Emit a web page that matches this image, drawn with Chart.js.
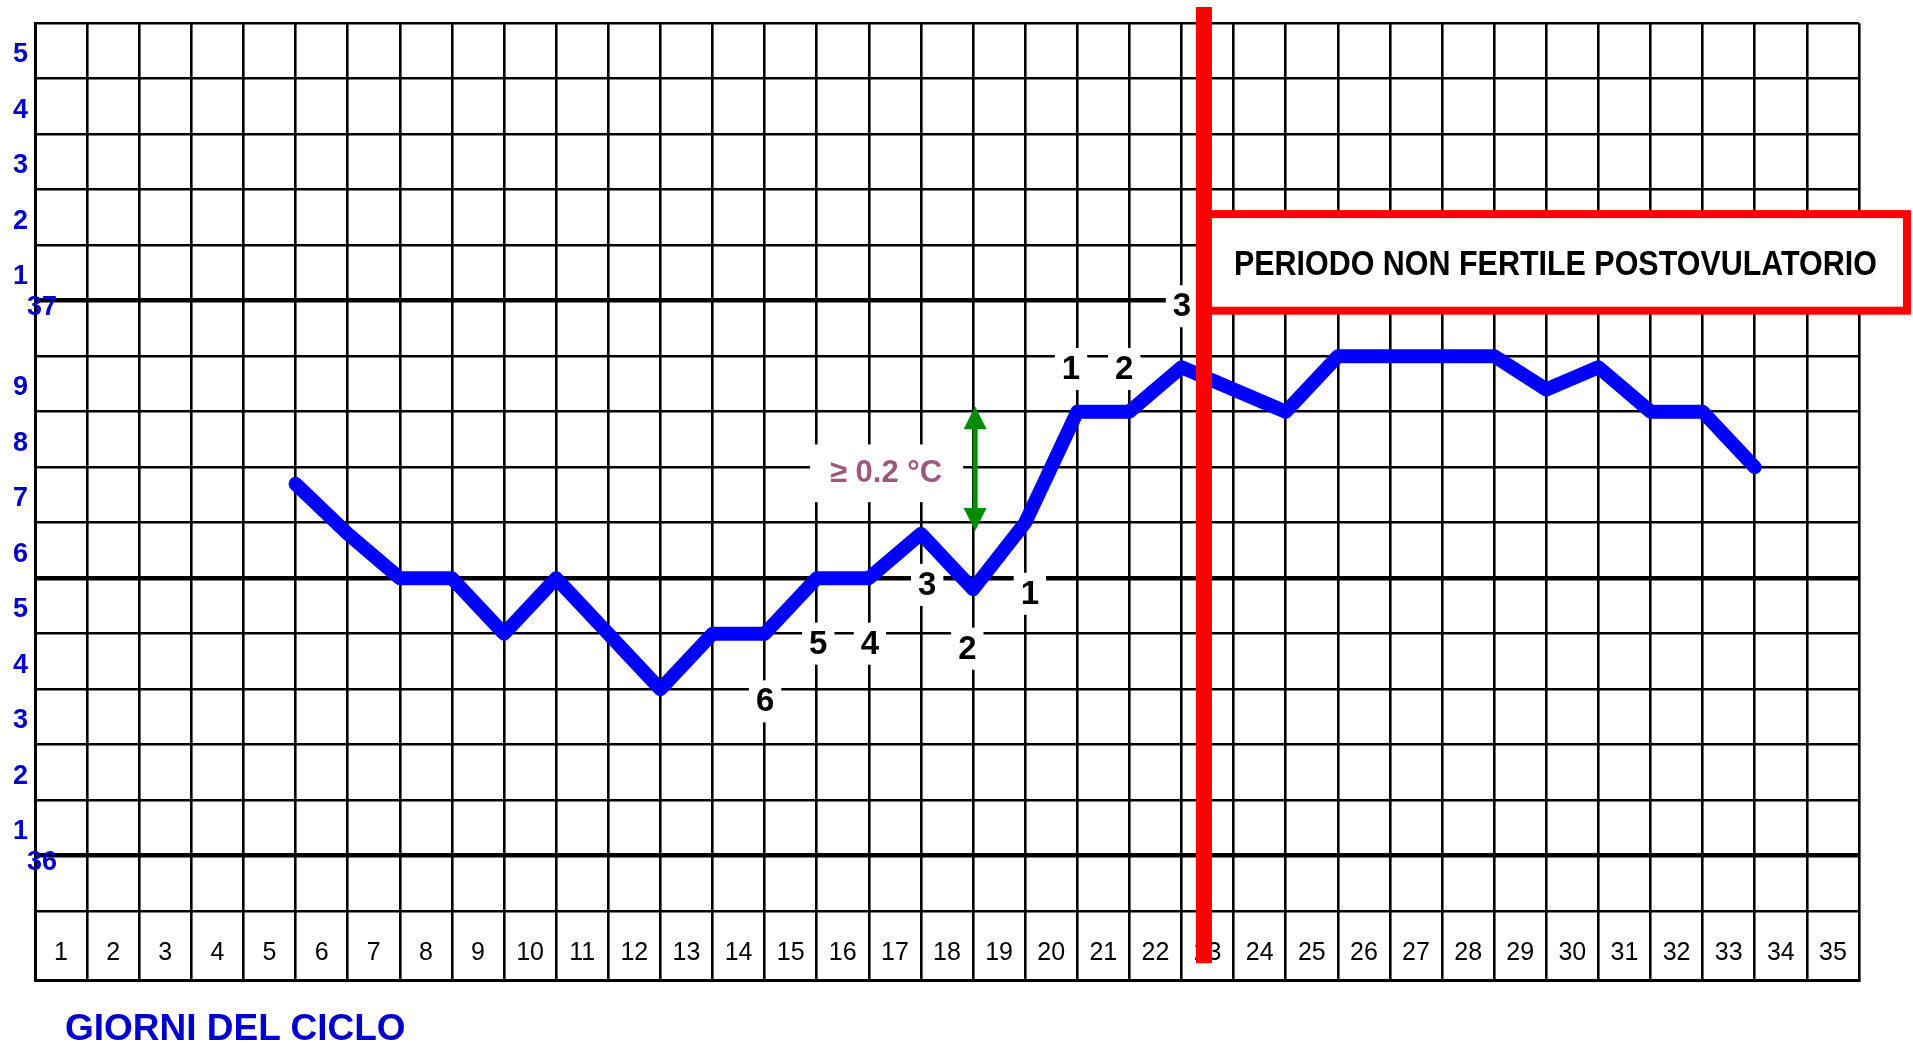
<!DOCTYPE html>
<html lang="it">
<head>
<meta charset="utf-8">
<title>Temperatura basale - giorni del ciclo</title>
<script src="https://cdn.jsdelivr.net/npm/chart.js@4.4.1/dist/chart.umd.min.js"></script>
<style>
  html, body { margin: 0; padding: 0; background: #fff; overflow: hidden; }
  #contenitore { position: relative; width: 1913px; height: 1044px; }
  #grafico { display: block; }
  #titoloAsse { position: absolute; left: 65px; top: 1009px; font: bold 37px "Liberation Sans", Arial, sans-serif; line-height: 37px; color: #0000cc; white-space: nowrap; }
</style>
</head>
<body>
<div id="contenitore">
  <canvas id="grafico" width="1913" height="1044"></canvas>
  <div id="titoloAsse">GIORNI DEL CICLO</div>
</div>
<script>
// dati
const giorniCiclo = [1, 2, 3, 4, 5, 6, 7, 8, 9, 10, 11, 12, 13, 14, 15, 16, 17, 18, 19, 20,
  21, 22, 23, 24, 25, 26, 27, 28, 29, 30, 31, 32, 33, 34, 35];
const giorniMisura = [5, 6, 7, 8, 9, 10, 11, 12, 13, 14, 15, 16, 17, 18, 19, 20, 21, 22, 23,
  24, 25, 26, 27, 28, 29, 30, 31, 32, 33];
const temperature = [36.67, 36.58, 36.5, 36.5, 36.4, 36.5, 36.4, 36.3, 36.4, 36.4, 36.5, 36.5,
  36.58, 36.48, 36.6, 36.8, 36.8, 36.88, 36.84, 36.8, 36.9, 36.9, 36.9, 36.9, 36.84, 36.88,
  36.8, 36.8, 36.7];
const valoriEtichetteY = [37.45, 37.35, 37.25, 37.15, 37.05, 36.85, 36.75, 36.65, 36.55,
  36.45, 36.35, 36.25, 36.15, 36.05];
const etichetteY = ["5", "4", "3", "2", "1", "9", "8", "7", "6", "5", "4", "3", "2", "1"];
const gradiInteri = [36, 37];
const lineeSpesse = [36, 36.5, 37];

const yMin = 35.776, yMax = 37.5;
const BLU = "#0000cc";
const FONT = "'Liberation Sans', Arial, sans-serif";

const lineeGriglia = [];
for (let i = 359; i <= 375; i++) lineeGriglia.push(i / 10);
const tickY = lineeGriglia.concat(valoriEtichetteY).sort((a, b) => a - b);
const tickX = [];
for (let i = 0; i <= giorniCiclo.length * 2; i++) tickX.push(i / 2);

function vicino(a, b){ return Math.abs(a - b) < 1e-6; }
function eGriglia(v){ return lineeGriglia.some(g => vicino(g, v)); }

// annotazioni (coordinate in unita' dei dati)
const note = {
  contatori: {
    testi: ["6", "5", "4", "3", "2", "1", "1", "2", "3"],
    x: [14.01, 15.03, 16.02, 17.12, 17.89, 19.09, 19.88, 20.9, 22.01],
    y: [36.278, 36.382, 36.382, 36.488, 36.373, 36.472, 36.877, 36.877, 36.99]
  },
  soglia: { testo: "\u2265 0.2 \u00b0C", x: 16.33, y: 36.689, box: [14.87, 36.741, 17.81, 36.637] },
  freccia: { x: 18.04, da: 36.81, a: 36.585 },
  ovulazione: { x: 22.43, da: 37.529, a: 35.806 },
  riquadro: { x1: 22.43, x2: 35.92, y1: 37.156, y2: 36.982, testo: "PERIODO NON FERTILE POSTOVULATORIO" }
};

const pluginNote = {
  id: "note",
  beforeDatasetsDraw(chart){
    const {ctx, scales: {x, y}} = chart;
    const c = note.contatori;
    ctx.save();
    ctx.textAlign = "center";
    ctx.textBaseline = "middle";
    ctx.font = "bold 33px " + FONT;
    c.testi.forEach((t, i) => {
      const px = x.getPixelForValue(c.x[i]);
      const py = y.getPixelForValue(c.y[i]);
      const w = ctx.measureText(t).width + 14;
      ctx.fillStyle = "#fff";
      ctx.fillRect(px - w / 2, py - 21, w, 42);
      ctx.fillStyle = "#000";
      ctx.fillText(t, px, py + 1);
    });
    const s = note.soglia;
    const bx1 = x.getPixelForValue(s.box[0]), by1 = y.getPixelForValue(s.box[1]);
    const bx2 = x.getPixelForValue(s.box[2]), by2 = y.getPixelForValue(s.box[3]);
    ctx.fillStyle = "#fff";
    ctx.fillRect(bx1, by1, bx2 - bx1, by2 - by1);
    ctx.font = "bold 31px " + FONT;
    ctx.fillStyle = "#9b5a7c";
    ctx.fillText(s.testo, x.getPixelForValue(s.x), y.getPixelForValue(s.y));
    ctx.restore();
  },
  afterDatasetsDraw(chart){
    const {ctx, scales: {x, y}} = chart;
    ctx.save();
    // freccia verde
    const f = note.freccia;
    const fx = x.getPixelForValue(f.x);
    const fy1 = y.getPixelForValue(f.da), fy2 = y.getPixelForValue(f.a);
    ctx.strokeStyle = ctx.fillStyle = "#008c00";
    ctx.lineWidth = 5;
    ctx.beginPath(); ctx.moveTo(fx, fy1 + 20); ctx.lineTo(fx, fy2 - 20); ctx.stroke();
    [[fy1, 1], [fy2, -1]].forEach(([py, dir]) => {
      ctx.beginPath();
      ctx.moveTo(fx, py);
      ctx.lineTo(fx - 11.5, py + dir * 23);
      ctx.lineTo(fx + 11.5, py + dir * 23);
      ctx.closePath();
      ctx.fill();
    });
    // riquadro rosso
    const r = note.riquadro;
    const rx1 = x.getPixelForValue(r.x1), rx2 = x.getPixelForValue(r.x2);
    const ry1 = y.getPixelForValue(r.y1), ry2 = y.getPixelForValue(r.y2);
    ctx.fillStyle = "#fff";
    ctx.fillRect(rx1, ry1, rx2 - rx1, ry2 - ry1);
    ctx.strokeStyle = "#ff0000";
    ctx.lineWidth = 8;
    ctx.strokeRect(rx1, ry1, rx2 - rx1, ry2 - ry1);
    ctx.fillStyle = "#000";
    ctx.font = "bold 35px 'Liberation Sans Narrow', " + FONT;
    ctx.textAlign = "center";
    ctx.textBaseline = "alphabetic";
    ctx.fillText(r.testo, (rx1 + rx2) / 2, (ry1 + ry2) / 2 + 12.5, 643);
    // linea dell'ovulazione
    const o = note.ovulazione;
    const ox = x.getPixelForValue(o.x);
    ctx.strokeStyle = "#ff0000";
    ctx.lineWidth = 16;
    ctx.beginPath();
    ctx.moveTo(ox, y.getPixelForValue(o.da));
    ctx.lineTo(ox, y.getPixelForValue(o.a));
    ctx.stroke();
    ctx.restore();
  }
};

new Chart(document.getElementById("grafico"), {
  type: "line",
  data: {
    datasets: [{
      label: "Temperatura basale",
      data: giorniMisura.map((g, i) => ({x: g, y: temperature[i]})),
      xAxisID: "x",
      yAxisID: "y",
      borderColor: "#0000ff",
      borderWidth: 14,
      borderCapStyle: "round",
      borderJoinStyle: "round",
      pointRadius: 0,
      tension: 0,
      fill: false
    }]
  },
  options: {
    responsive: false,
    animation: false,
    events: [],
    layout: { padding: { top: 19, right: 54, bottom: 64, left: 0 } },
    plugins: { legend: { display: false }, tooltip: { enabled: false } },
    scales: {
      x: {
        type: "linear",
        position: { y: yMin },
        min: 0,
        max: giorniCiclo.length,
        afterBuildTicks: s => { s.ticks = tickX.map(v => ({value: v})); },
        afterFit: s => { s.height = 0; },
        border: { display: true, color: "#000", width: 3 },
        grid: {
          drawTicks: false,
          color: c => (c.tick && !Number.isInteger(c.tick.value)) ? "rgba(0,0,0,0)" : "#000",
          lineWidth: c => (c.tick && !Number.isInteger(c.tick.value)) ? 0 : 2.6
        },
        ticks: {
          autoSkip: false,
          maxRotation: 0,
          minRotation: 0,
          padding: -42,
          color: "#000",
          font: { family: FONT, size: 25 },
          callback: v => Number.isInteger(v) ? "" : String(giorniCiclo[Math.floor(v)])
        }
      },
      y: {
        type: "linear",
        position: "left",
        weight: 1,
        min: yMin,
        max: yMax,
        afterBuildTicks: s => { s.ticks = tickY.map(v => ({value: v})); },
        afterFit: s => { s.width = 35; },
        border: { display: true, color: "#000", width: 3 },
        grid: {
          drawTicks: false,
          color: c => (c.tick && !eGriglia(c.tick.value)) ? "rgba(0,0,0,0)" : "#000",
          lineWidth: c => {
            if (!c.tick) return 2.6;
            if (!eGriglia(c.tick.value)) return 0;
            return lineeSpesse.some(v => vicino(v, c.tick.value)) ? 4.5 : 2.6;
          }
        },
        ticks: {
          autoSkip: false,
          padding: 7,
          labelOffset: 4,
          color: BLU,
          font: { family: FONT, size: 27, weight: "bold" },
          callback: v => {
            const i = valoriEtichetteY.findIndex(e => vicino(e, v));
            return i < 0 ? "" : etichetteY[i];
          }
        }
      },
      y2: {
        type: "linear",
        position: "left",
        weight: 0,
        min: yMin,
        max: yMax,
        afterBuildTicks: s => { s.ticks = gradiInteri.map(v => ({value: v})); },
        afterFit: s => { s.width = 0; },
        border: { display: false },
        grid: { display: false, drawTicks: false },
        ticks: {
          mirror: true,
          padding: -8,
          labelOffset: 7,
          color: BLU,
          font: { family: FONT, size: 27, weight: "bold" },
          callback: v => String(v)
        }
      }
    }
  },
  plugins: [pluginNote]
});
</script>
</body>
</html>
